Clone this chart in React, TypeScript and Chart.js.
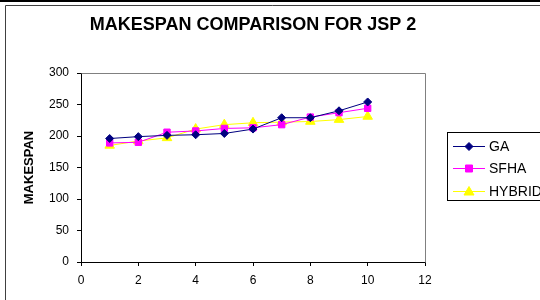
import React, { useEffect, useRef } from "react";
import { Chart, registerables } from "chart.js";

Chart.register(...registerables);

const xValues = [1, 2, 3, 4, 5, 6, 7, 8, 9, 10];
const gaValues = [196, 199, 201, 202, 204, 211, 229, 229, 240, 254];
const sfhaValues = [189, 190, 206, 208, 212, 213, 218, 230, 237, 244];
const hybridValues = [185, 192, 197, 211, 218, 221, 222, 223, 226, 231];
const seriesNames = ["GA", "SFHA", "HYBRID"];
const chartTitle = "MAKESPAN COMPARISON FOR JSP 2";
const yAxisTitle = "MAKESPAN";

const FONT = "'Liberation Sans', Arial, sans-serif";

const framePlugin = {
  id: "framePlugin",
  beforeDraw(chart: any) {
    const ctx = chart.ctx;
    ctx.save();
    ctx.fillStyle = "#fff";
    ctx.fillRect(0, 0, chart.width, chart.height);
    ctx.fillStyle = "#000";
    ctx.fillRect(0, 0, chart.width, 2);
    ctx.strokeStyle = "#404040";
    ctx.lineWidth = 1;
    ctx.beginPath();
    ctx.moveTo(5.5, chart.height);
    ctx.lineTo(5.5, 5.5);
    ctx.lineTo(chart.width, 5.5);
    ctx.stroke();
    ctx.restore();
  },
  beforeDatasetsDraw(chart: any) {
    const { ctx, chartArea } = chart;
    ctx.save();
    ctx.strokeStyle = "#808080";
    ctx.lineWidth = 1;
    ctx.beginPath();
    const l = Math.round(chartArea.left) + 0.5;
    const r = Math.round(chartArea.right) + 0.5;
    const t = Math.round(chartArea.top) + 0.5;
    const b = Math.round(chartArea.bottom) + 0.5;
    ctx.moveTo(l, t);
    ctx.lineTo(r, t);
    ctx.lineTo(r, b);
    ctx.stroke();
    ctx.restore();
  },
  afterDraw(chart: any) {
    const ctx = chart.ctx;
    ctx.save();
    // legend box
    ctx.strokeStyle = "#000";
    ctx.lineWidth = 1;
    ctx.strokeRect(447.5, 132.5, 110, 68);
    const ys = [146, 168, 191];
    chart.data.datasets.forEach((ds: any, i: number) => {
      const y = ys[i];
      ctx.strokeStyle = ds.borderColor;
      ctx.lineWidth = 1;
      ctx.beginPath();
      ctx.moveTo(453, y + 0.5);
      ctx.lineTo(485, y + 0.5);
      ctx.stroke();
      ctx.fillStyle = ds.backgroundColor;
      ctx.strokeStyle = ds.borderColor;
      const cx = 469;
      const cy = y + 0.5;
      ctx.beginPath();
      if (ds.pointStyle === "rectRot") {
        ctx.moveTo(cx, cy - 4);
        ctx.lineTo(cx + 4, cy);
        ctx.lineTo(cx, cy + 4);
        ctx.lineTo(cx - 4, cy);
        ctx.closePath();
      } else if (ds.pointStyle === "rect") {
        ctx.rect(cx - 3.5, cy - 3.5, 7, 7);
      } else {
        ctx.moveTo(cx, cy - 5);
        ctx.lineTo(cx + 5, cy + 3.5);
        ctx.lineTo(cx - 5, cy + 3.5);
        ctx.closePath();
      }
      ctx.fill();
      ctx.stroke();
      ctx.fillStyle = "#000";
      ctx.font = `14px ${FONT}`;
      ctx.textBaseline = "middle";
      ctx.textAlign = "left";
      ctx.fillText(ds.label, 489, y + 1);
    });
    ctx.restore();
  },
};

export default function App() {
  const ref = useRef<HTMLCanvasElement | null>(null);

  useEffect(() => {
    if (!ref.current) return;
    const mk = (vals: number[]) => vals.map((v, i) => ({ x: xValues[i], y: v }));
    const chart = new Chart(ref.current, {
      type: "line",
      data: {
        datasets: [
          {
            label: seriesNames[0],
            data: mk(gaValues),
            borderColor: "#000080",
            backgroundColor: "#000080",
            borderWidth: 1,
            pointStyle: "rectRot",
            pointRadius: 4,
            pointBorderWidth: 1,
          },
          {
            label: seriesNames[1],
            data: mk(sfhaValues),
            borderColor: "#FF00FF",
            backgroundColor: "#FF00FF",
            borderWidth: 1,
            pointStyle: "rect",
            pointRadius: 4.5,
            pointBorderWidth: 1,
          },
          {
            label: seriesNames[2],
            data: mk(hybridValues),
            borderColor: "#FFFF00",
            backgroundColor: "#FFFF00",
            borderWidth: 1,
            pointStyle: "triangle",
            pointRadius: 5.5,
            pointBorderWidth: 1,
          },
        ] as any,
      },
      options: {
        animation: false,
        responsive: false,
        devicePixelRatio: 1,
        layout: { padding: { left: 0, right: 115, top: 0, bottom: 0 } },
        plugins: {
          legend: { display: false },
          tooltip: { enabled: false },
          title: {
            display: true,
            text: chartTitle,
            fullSize: false,
            color: "#000",
            font: { family: FONT, size: 18, weight: "bold" },
            padding: { top: 14, bottom: 37.4 },
          },
        },
        scales: {
          x: {
            type: "linear",
            min: 0,
            max: 12,
            afterFit: (s: any) => {
              s.height = 38;
            },
            ticks: {
              stepSize: 2,
              color: "#000",
              font: { family: FONT, size: 12 },
              padding: 7,
              maxRotation: 0,
            },
            grid: {
              drawOnChartArea: false,
              drawTicks: true,
              tickLength: 4,
              color: "#000",
            },
            border: { display: true, color: "#000", width: 1 },
          },
          y: {
            min: 0,
            max: 300,
            afterFit: (s: any) => {
              s.width = 81;
            },
            ticks: {
              stepSize: 50,
              color: "#000",
              font: { family: FONT, size: 12 },
              padding: 8,
            },
            grid: {
              drawOnChartArea: false,
              drawTicks: true,
              tickLength: 4,
              color: "#000",
            },
            border: { display: true, color: "#000", width: 1 },
            title: {
              display: true,
              text: yAxisTitle,
              color: "#000",
              font: { family: FONT, size: 13, weight: "bold" },
              padding: { top: 22, bottom: 0 },
            },
          },
        },
      } as any,
      plugins: [framePlugin],
    });
    return () => chart.destroy();
  }, []);

  return (
    <div style={{ position: "absolute", left: 0, top: 0, width: 540, height: 300, background: "#fff" }}>
      <canvas ref={ref} width={540} height={300} style={{ display: "block", width: 540, height: 300 }} />
    </div>
  );
}
